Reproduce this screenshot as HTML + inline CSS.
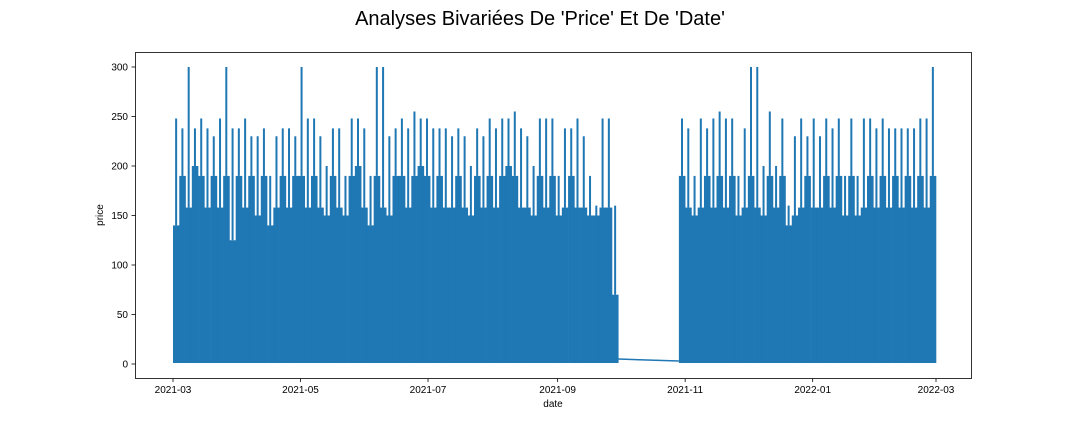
<!DOCTYPE html>
<html><head><meta charset="utf-8"><style>
body{margin:0;background:#fff;}
svg text{font-family:"Liberation Sans",sans-serif;fill:#000;}
</style></head><body>
<svg id="chart" width="1080" height="432" xmlns="http://www.w3.org/2000/svg">
<text x="540" y="25" font-size="20" text-anchor="middle">Analyses Bivariées De 'Price' Et De 'Date'</text>
<g id="plot"></g>
<rect x="135.5" y="52.5" width="836" height="326" fill="none" stroke="#000" stroke-width="0.8"/>
<g id="xt"></g>
<g id="yt"></g>
<text x="553" y="407" font-size="10" text-anchor="middle">date</text>
<text transform="translate(103,215) rotate(-90)" font-size="10" text-anchor="middle">price</text>
</svg>
<script>
const seg1Start = "2021-03-01";
const seg2Start = "2021-10-29";
const binDays = 3;
const seg1Peaks = [248,238,300,238,248,238,230,248,300,238,238,248,230,230,238,190,230,238,238,230,300,248,248,230,200,238,238,190,248,248,238,190,300,300,230,238,
248,238,255,248,248,238,238,238,230,238,230,200,238,230,248,238,248,248,255,238,230,200,248,248,248,190,238,238,248,230,190,160,248,248,160];
const seg1Base = [140,190,158,200,190,158,190,158,190,125,190,158,190,150,190,140,158,190,158,190,190,158,190,158,150,190,158,150,190,200,158,140,190,158,150,190,
190,158,190,200,190,158,190,158,158,190,158,150,190,158,190,158,190,200,190,158,158,150,190,158,190,150,158,190,158,158,150,150,158,158,70];
const seg2Peaks = [248,238,190,248,238,248,255,248,248,190,238,300,300,200,255,200,248,160,230,248,230,248,230,248,238,248,190,248,190,248,248,238,248,238,238,238,238,238,248,248,300];
const seg2Base = [190,158,150,158,190,158,190,158,190,150,158,190,158,150,190,158,190,140,150,158,190,158,158,190,158,190,150,190,150,158,190,158,190,158,190,158,190,158,190,158,190];
const lowValue = 3;
const xTickLabels = ["2021-03","2021-05","2021-07","2021-09","2021-11","2022-01","2022-03"];
const yTickValues = [0,50,100,150,200,250,300];

const NS="http://www.w3.org/2000/svg";
const t0 = Date.parse("2021-03-01"), t1 = Date.parse("2022-03-01");
function xs(ms){return 173 + (ms - t0)/(t1 - t0)*763;}
function ys(v){return 364 - v*0.99;}
const DAY=86400000;
const plot=document.getElementById('plot');
function mk(tag,attrs,parent){const e=document.createElementNS(NS,tag);for(const k in attrs)e.setAttribute(k,attrs[k]);parent.appendChild(e);return e;}
function drawSeg(start,peaks,base,name){
  const s=Date.parse(start);
  peaks.forEach((p,i)=>{
    const a=xs(s+i*binDays*DAY), b=xs(s+(i+1)*binDays*DAY);
    const r=mk('rect',{x:a,y:ys(base[i]),width:b-a+0.3,height:ys(lowValue-2)-ys(base[i]),fill:'#1f77b4'},plot);
    
    
    const sp=mk('line',{x1:(a+b)/2,y1:ys(p),x2:(a+b)/2,y2:ys(base[i]),stroke:'#1f77b4','stroke-width':2},plot);
    
    
  });
  return [xs(s), xs(s+peaks.length*binDays*DAY)];
}
const r1=drawSeg(seg1Start,seg1Peaks,seg1Base,'series-segment-1');
const r2=drawSeg(seg2Start,seg2Peaks,seg2Base,'series-segment-2');
const ln=mk('line',{x1:r1[1],y1:ys(5),x2:r2[0],y2:ys(lowValue),stroke:'#1f77b4','stroke-width':1.5},plot);



const xt=document.getElementById('xt');
xTickLabels.forEach(l=>{
  const x=xs(Date.parse(l+"-01"));
  const tk=mk('line',{x1:x,y1:378.5,x2:x,y2:382,stroke:'#000','stroke-width':0.8},xt);
  
  
  const tx=mk('text',{x:x,y:393,'font-size':10,'text-anchor':'middle'},xt);
  tx.textContent=l;
  
  
});
const yt=document.getElementById('yt');
yTickValues.forEach(v=>{
  const y=ys(v);
  const tk=mk('line',{x1:131.5,y1:y,x2:135.5,y2:y,stroke:'#000','stroke-width':0.8},yt);
  
  
  const tx=mk('text',{x:128,y:y+3.5,'font-size':10,'text-anchor':'end'},yt);
  tx.textContent=v;
  
  
});
</script>
</body></html>
